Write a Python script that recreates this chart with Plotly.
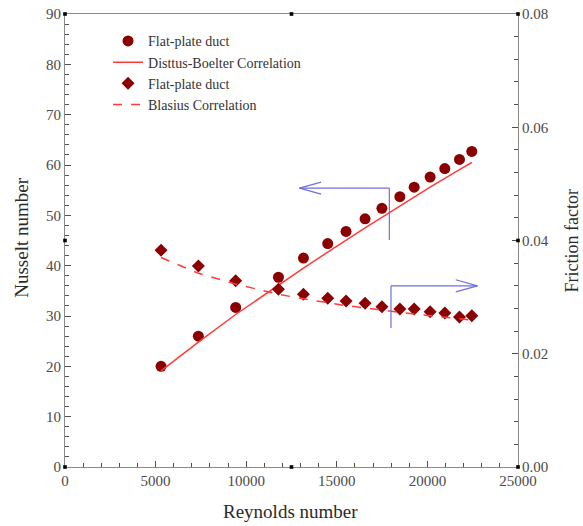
import plotly.graph_objects as go

# Data
re_exp = [5300, 7360, 9420, 11780, 13160, 14500, 15510, 16560, 17490, 18480, 19270, 20150, 20960, 21770, 22450]
nu_exp = [20.0, 26.0, 31.7, 37.7, 41.5, 44.4, 46.8, 49.3, 51.4, 53.7, 55.6, 57.6, 59.3, 61.1, 62.7]
nu_db = [19.1, 24.8, 30.3, 36.2, 39.5, 42.7, 45.1, 47.5, 49.6, 51.9, 53.6, 55.6, 57.4, 59.1, 60.5]
f_exp = [0.0383, 0.0355, 0.0329, 0.0314, 0.0305, 0.0298, 0.0293, 0.0289, 0.0283, 0.0279, 0.0279, 0.0274, 0.0272, 0.0265, 0.0267]
f_blasius = [0.0370, 0.0342, 0.0323, 0.0305, 0.0297, 0.0290, 0.0285, 0.0281, 0.0277, 0.0273, 0.0270, 0.0267, 0.0265, 0.0262, 0.0259]

x_ticks = [0, 5000, 10000, 15000, 20000, 25000]
nu_ticks = [0, 10, 20, 30, 40, 50, 60, 70, 80, 90]
f_ticks = [0.00, 0.02, 0.04, 0.06, 0.08]

MARK = "#8b0000"
LINE = "#ff3b3b"
BLUE = "#6f6fe0"
AX = "#4f4f4f"
FONT = "Liberation Serif"
TICKC = "#4a4a4a"
TITLEC = "#2a2a2a"

fig = go.Figure()
fig.add_trace(go.Scatter(x=re_exp, y=nu_exp, mode="markers", name="Flat-plate duct",
                         marker=dict(symbol="circle", size=11, color=MARK)))
fig.add_trace(go.Scatter(x=re_exp, y=nu_db, mode="lines", name="Disttus-Boelter Correlation",
                         line=dict(color=LINE, width=1.5)))
fig.add_trace(go.Scatter(x=re_exp, y=f_exp, mode="markers", name="Flat-plate duct", yaxis="y2",
                         marker=dict(symbol="diamond", size=10, color=MARK)))
fig.add_trace(go.Scatter(x=re_exp, y=f_blasius, mode="lines", name="Blasius Correlation", yaxis="y2",
                         line=dict(color=LINE, width=1.5, dash="dash")))

shapes = []
def seg(x0, y0, x1, y1):
    shapes.append(dict(type="line", xref="x", yref="y", x0=x0, y0=y0, x1=x1, y1=y1,
                       line=dict(color=BLUE, width=1.2)))

# Left-pointing arrow (Nusselt -> left axis)
seg(17900, 45.1, 17900, 55.4)
seg(17900, 55.4, 12940, 55.4)
seg(12940, 55.4, 14135, 56.6)
seg(12940, 55.4, 14135, 54.2)
# Right-pointing arrow (friction -> right axis)
seg(17990, 27.6, 17990, 36.0)
seg(17990, 36.0, 22760, 36.0)
seg(22760, 36.0, 21565, 37.2)
seg(22760, 36.0, 21565, 34.8)

# small black handle squares (as in reference)
for px, py in [(0, 1), (0.5, 1), (1, 1), (0, 0.5), (1, 0.5), (0, 0), (0.5, 0), (1, 0)]:
    shapes.append(dict(type="rect", xref="paper", yref="paper",
                       x0=px - 0.004, x1=px + 0.004, y0=py - 0.004, y1=py + 0.004,
                       fillcolor="black", line=dict(width=0)))

tfont = dict(family=FONT, size=19, color=TITLEC)
annotations = [
    dict(text="Reynolds number", x=0.497, y=-0.099, xref="paper", yref="paper",
         showarrow=False, font=tfont, xanchor="center", yanchor="middle"),
    dict(text="Nusselt number", x=-0.095, y=0.506, xref="paper", yref="paper",
         showarrow=False, font=tfont, textangle=-90, xanchor="center", yanchor="middle"),
    dict(text="Friction factor", x=1.119, y=0.5, xref="paper", yref="paper",
         showarrow=False, font=dict(family=FONT, size=18, color=TITLEC), textangle=-90,
         xanchor="center", yanchor="middle"),
]

def axis_common(ticks_list):
    return dict(showgrid=False, zeroline=False, showline=True, linecolor="#8a8a8a", linewidth=1.2,
                tickmode="linear", tick0=ticks_list[0], dtick=ticks_list[1] - ticks_list[0],
                ticks="inside", ticklen=6, tickwidth=1.4, tickcolor=AX, automargin=False,
                range=[ticks_list[0], ticks_list[-1]],
                tickfont=dict(family=FONT, size=15, color=TICKC))

fig.update_layout(
    width=583, height=526,
    margin=dict(l=65, r=65, t=14, b=59, autoexpand=False),
    paper_bgcolor="white", plot_bgcolor="white",
    font=dict(family=FONT, size=14, color=TICKC),
    showlegend=True,
    legend=dict(x=0.095, y=0.975, xanchor="left", yanchor="top", bgcolor="rgba(0,0,0,0)",
                font=dict(family=FONT, size=14, color="#333"), tracegroupgap=0,
                itemwidth=30),
    xaxis=dict(tickformat="d", mirror=True,
               minor=dict(ticks="inside", ticklen=4, dtick=1000, tickcolor=AX, tickwidth=1.2),
               **axis_common(x_ticks)),
    yaxis=dict(minor=dict(ticks="inside", ticklen=4, dtick=2, tickcolor=AX, tickwidth=1.2),
               **axis_common(nu_ticks)),
    yaxis2=dict(tickformat=".2f", overlaying="y", side="right",
                minor=dict(ticks="inside", ticklen=4, dtick=0.004, tickcolor=AX, tickwidth=1.2),
                **axis_common(f_ticks)),
    shapes=shapes,
    annotations=annotations,
)

fig.write_html("out.html")
